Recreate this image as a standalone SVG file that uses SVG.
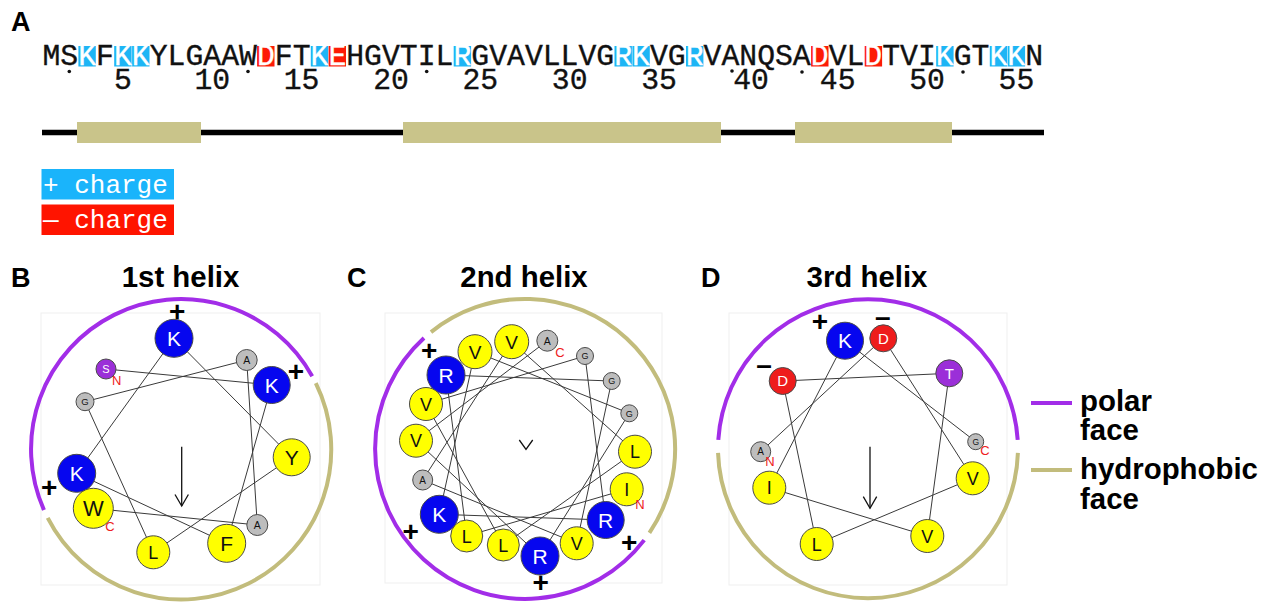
<svg xmlns="http://www.w3.org/2000/svg" width="1270" height="609" viewBox="0 0 1270 609">
<style>
.seq{font-family:"Liberation Mono","DejaVu Sans Mono",monospace;font-size:29.78px;fill:#111;stroke:#111;stroke-width:0.35}
.num{font-family:"Liberation Mono","DejaVu Sans Mono",monospace;font-size:29.78px;fill:#111;stroke:#111;stroke-width:0.35;text-anchor:middle}
.pos{fill:#1db5f5}.neg{fill:#fd1b06}
.leg{font-family:"Liberation Mono",monospace;font-size:26px;fill:#fff}
.hd{font-family:"Liberation Sans",Arial,sans-serif;font-weight:bold;fill:#000}
.ttl{font-family:"Liberation Sans",Arial,sans-serif;font-weight:bold;font-size:29.4px;text-anchor:middle;fill:#000}
.frame{fill:none;stroke:#efefef;stroke-width:1}
.pol{fill:none;stroke:#a22de8;stroke-width:4}
.hyd{fill:none;stroke:#c2bc7c;stroke-width:4}
.ln{fill:none;stroke:#3a3a3a;stroke-width:1}
.c{stroke:#4a4a4a;stroke-width:1}
.bl{fill:#0606ef}.ye{fill:#ffff00}.gr{fill:#bdbdbd}.pu{fill:#9b2fd8}.rd{fill:#ee1c1c}
.t{font-family:"Liberation Sans",Arial,sans-serif;text-anchor:middle}
.tw{fill:#fff}.tb{fill:#111}
.term{font-family:"Liberation Sans",Arial,sans-serif;font-size:13px;fill:#ee2020;text-anchor:middle}
.sym{font-family:"Liberation Sans",Arial,sans-serif;font-weight:bold;font-size:28px;text-anchor:middle;fill:#000}
.arr{fill:none;stroke:#111;stroke-width:1.3}
.lgt{font-family:"Liberation Sans",Arial,sans-serif;font-weight:bold;font-size:29.4px;fill:#000}
</style>

<g id="panelA">
<text class="hd" x="11" y="31" font-size="27">A</text>
<g id="highlights">
<rect class="pos" x="78.4" y="46" width="17.4" height="20.5"/>
<rect class="pos" x="114.2" y="46" width="17.4" height="20.5"/>
<rect class="pos" x="132.1" y="46" width="17.4" height="20.5"/>
<rect class="neg" x="257.1" y="46" width="17.4" height="20.5"/>
<rect class="pos" x="310.8" y="46" width="17.4" height="20.5"/>
<rect class="neg" x="328.6" y="46" width="17.4" height="20.5"/>
<rect class="pos" x="453.7" y="46" width="17.4" height="20.5"/>
<rect class="pos" x="614.5" y="46" width="17.4" height="20.5"/>
<rect class="pos" x="632.4" y="46" width="17.4" height="20.5"/>
<rect class="pos" x="686.0" y="46" width="17.4" height="20.5"/>
<rect class="neg" x="811.1" y="46" width="17.4" height="20.5"/>
<rect class="neg" x="864.7" y="46" width="17.4" height="20.5"/>
<rect class="pos" x="936.2" y="46" width="17.4" height="20.5"/>
<rect class="pos" x="989.8" y="46" width="17.4" height="20.5"/>
<rect class="pos" x="1007.7" y="46" width="17.4" height="20.5"/>
</g>
<text class="seq" x="42.5" y="64.5">MS<tspan fill="#fff" stroke="#fff">K</tspan>F<tspan fill="#fff" stroke="#fff">KK</tspan>YLGAAW<tspan fill="#fff" stroke="#fff">D</tspan>FT<tspan fill="#fff" stroke="#fff">KE</tspan>HGVTIL<tspan fill="#fff" stroke="#fff">R</tspan>GVAVLLVG<tspan fill="#fff" stroke="#fff">RK</tspan>VG<tspan fill="#fff" stroke="#fff">R</tspan>VANQSA<tspan fill="#fff" stroke="#fff">D</tspan>VL<tspan fill="#fff" stroke="#fff">D</tspan>TVI<tspan fill="#fff" stroke="#fff">K</tspan>GT<tspan fill="#fff" stroke="#fff">KK</tspan>N</text>
<g id="dots" fill="#111">
<circle cx="69.3" cy="71.5" r="1.8"/><circle cx="248" cy="71.5" r="1.8"/><circle cx="426.7" cy="71.5" r="1.8"/>
<circle cx="732" cy="71" r="1.8"/><circle cx="802" cy="72" r="1.8"/><circle cx="963" cy="72" r="1.8"/>
</g>
<g id="numbers">
<text class="num" x="122.9" y="88.5">5</text>
<text class="num" x="212.3" y="88.5">10</text>
<text class="num" x="301.6" y="88.5">15</text>
<text class="num" x="391" y="88.5">20</text>
<text class="num" x="480.3" y="88.5">25</text>
<text class="num" x="569.7" y="88.5">30</text>
<text class="num" x="659" y="88.5">35</text>
<text class="num" x="751" y="88.5">40</text>
<text class="num" x="837.7" y="88.5">45</text>
<text class="num" x="927.1" y="88.5">50</text>
<text class="num" x="1016.4" y="88.5">55</text>
</g>
<g id="topology">
<line x1="42" y1="132.5" x2="1044" y2="132.5" stroke="#000" stroke-width="5.5"/>
<rect x="77" y="122" width="124" height="21" fill="#c9c48a"/>
<rect x="403" y="122" width="318" height="21" fill="#c9c48a"/>
<rect x="795" y="122" width="157" height="21" fill="#c9c48a"/>
</g>
<g id="charge-legend">
<rect x="41.5" y="169" width="132.5" height="30.5" fill="#1ab4fb"/>
<text class="leg" x="43" y="193">+ charge</text>
<rect x="41.5" y="204.5" width="132.5" height="30.5" fill="#ff1400"/>
<text class="leg" x="43" y="227.5">— charge</text>
</g>
</g>

<g id="panelB">
<text class="hd" x="11" y="287" font-size="27">B</text>
<text class="ttl" x="180.5" y="287">1st helix</text>
<rect class="frame" x="41" y="313" width="279" height="272"/>
<path class="pol" d="M43.97 510 A150 150 0 0 1 312.2 376.3"/>
<path class="hyd" d="M315.8 383.2 A150 150 0 0 1 47.7 517.8"/>
<g id="h1-connectors">
<polyline class="ln" points="106,369 271.7,385 226.7,543.3 76.7,473.3 174,338.3 291.7,457.3 153.3,552.3 85,401.7 246.7,360 257.3,525 93.3,508.3"/>
</g>
<line class="arr" x1="181.7" y1="446.7" x2="181.7" y2="506"/>
<polyline class="arr" points="175,494.5 181.7,506 188.4,494.5"/>
<g id="h1-S2"><circle class="c pu" cx="106" cy="369" r="10"/><text class="t tw" x="106" y="373" font-size="11">S</text><text class="term" x="116.7" y="384.7">N</text></g>
<g id="h1-K3"><circle class="c bl" cx="271.7" cy="385" r="18.5"/><text class="t tw" x="271.7" y="392.6" font-size="21">K</text></g>
<g id="h1-F4"><circle class="c ye" cx="226.7" cy="543.3" r="19"/><text class="t tb" x="226.7" y="550.9" font-size="21">F</text></g>
<g id="h1-K5"><circle class="c bl" cx="76.7" cy="473.3" r="19"/><text class="t tw" x="76.7" y="480.9" font-size="21">K</text></g>
<g id="h1-K6"><circle class="c bl" cx="174" cy="338.3" r="19"/><text class="t tw" x="174" y="345.9" font-size="21">K</text></g>
<g id="h1-Y7"><circle class="c ye" cx="291.7" cy="457.3" r="18.5"/><text class="t tb" x="291.7" y="464.9" font-size="21">Y</text></g>
<g id="h1-L8"><circle class="c ye" cx="153.3" cy="552.3" r="16.5"/><text class="t tb" x="153.3" y="558.8" font-size="18">L</text></g>
<g id="h1-G9"><circle class="c gr" cx="85" cy="401.7" r="9"/><text class="t tb" x="85" y="405.1" font-size="9.5">G</text></g>
<g id="h1-A10"><circle class="c gr" cx="246.7" cy="360" r="10.5"/><text class="t tb" x="246.7" y="363.8" font-size="10.5">A</text></g>
<g id="h1-A11"><circle class="c gr" cx="257.3" cy="525" r="10.5"/><text class="t tb" x="257.3" y="528.8" font-size="10.5">A</text></g>
<g id="h1-W12"><circle class="c ye" cx="93.3" cy="508.3" r="20"/><text class="t tb" x="93.3" y="516.2" font-size="22">W</text><text class="term" x="110" y="530.7">C</text></g>
<text class="sym" x="177.3" y="321.3">+</text>
<text class="sym" x="296" y="381.3">+</text>
<text class="sym" x="49.3" y="496.9">+</text>
</g>

<g id="panelC">
<text class="hd" x="347" y="287" font-size="27">C</text>
<text class="ttl" x="524" y="287">2nd helix</text>
<rect class="frame" x="385" y="313" width="277" height="270"/>
<path class="pol" d="M644.2 540.1 A150 150 0 1 1 424 338.1"/>
<path class="hyd" d="M431 332.1 A150 150 0 0 1 649.4 532.9"/>
<g id="h2-connectors">
<polyline class="ln" points="626.7,489.3 466.7,536 446,375 611.7,381 576.7,543.3 422.7,480 511.7,341.7 635,451.7 503.3,545 426,404 585,356 605.7,520 439.3,514.3 475,351.7 629.3,413.3 540,556 416,440.7 547.3,340.7"/>
</g>
<polyline class="arr" points="519.3,440 526,449.3 532.7,440"/>
<g id="h2-I22"><circle class="c ye" cx="626.7" cy="489.3" r="16.5"/><text class="t tb" x="626.7" y="495.8" font-size="18">I</text><text class="term" x="640" y="508.7">N</text></g>
<g id="h2-L23"><circle class="c ye" cx="466.7" cy="536" r="16"/><text class="t tb" x="466.7" y="542.5" font-size="18">L</text></g>
<g id="h2-R24"><circle class="c bl" cx="446" cy="375" r="19"/><text class="t tw" x="446" y="382.6" font-size="21">R</text></g>
<g id="h2-G25"><circle class="c gr" cx="611.7" cy="381" r="8.5"/><text class="t tb" x="611.7" y="384.2" font-size="9">G</text></g>
<g id="h2-V26"><circle class="c ye" cx="576.7" cy="543.3" r="16.5"/><text class="t tb" x="576.7" y="549.8" font-size="18">V</text></g>
<g id="h2-A27"><circle class="c gr" cx="422.7" cy="480" r="10"/><text class="t tb" x="422.7" y="483.6" font-size="10">A</text></g>
<g id="h2-V28"><circle class="c ye" cx="511.7" cy="341.7" r="17"/><text class="t tb" x="511.7" y="348.5" font-size="19">V</text></g>
<g id="h2-L29"><circle class="c ye" cx="635" cy="451.7" r="16.5"/><text class="t tb" x="635" y="458.2" font-size="18">L</text></g>
<g id="h2-L30"><circle class="c ye" cx="503.3" cy="545" r="16"/><text class="t tb" x="503.3" y="551.5" font-size="18">L</text></g>
<g id="h2-V31"><circle class="c ye" cx="426" cy="404" r="16.5"/><text class="t tb" x="426" y="410.5" font-size="18">V</text></g>
<g id="h2-G32"><circle class="c gr" cx="585" cy="356" r="8.5"/><text class="t tb" x="585" y="359.2" font-size="9">G</text></g>
<g id="h2-R33"><circle class="c bl" cx="605.7" cy="520" r="18.5"/><text class="t tw" x="605.7" y="527.6" font-size="21">R</text></g>
<g id="h2-K34"><circle class="c bl" cx="439.3" cy="514.3" r="19"/><text class="t tw" x="439.3" y="521.9" font-size="21">K</text></g>
<g id="h2-V35"><circle class="c ye" cx="475" cy="351.7" r="17"/><text class="t tb" x="475" y="358.5" font-size="19">V</text></g>
<g id="h2-G36"><circle class="c gr" cx="629.3" cy="413.3" r="8.5"/><text class="t tb" x="629.3" y="416.5" font-size="9">G</text></g>
<g id="h2-R37"><circle class="c bl" cx="540" cy="556" r="19"/><text class="t tw" x="540" y="563.6" font-size="21">R</text></g>
<g id="h2-V38"><circle class="c ye" cx="416" cy="440.7" r="16.5"/><text class="t tb" x="416" y="447.2" font-size="18">V</text></g>
<g id="h2-A39"><circle class="c gr" cx="547.3" cy="340.7" r="10.5"/><text class="t tb" x="547.3" y="344.5" font-size="10.5">A</text><text class="term" x="560" y="357.4">C</text></g>
<text class="sym" x="429.3" y="359.6">+</text>
<text class="sym" x="410.7" y="540.6">+</text>
<text class="sym" x="629.3" y="552.3">+</text>
<text class="sym" x="540.7" y="591.9">+</text>
</g>

<g id="panelD">
<text class="hd" x="701" y="287" font-size="27">D</text>
<text class="ttl" x="867" y="287">3rd helix</text>
<rect class="frame" x="729" y="313" width="278" height="272"/>
<path class="pol" d="M718.3 439.8 A150 150 0 0 1 1017.7 439.8"/>
<path class="hyd" d="M1017.9 452.9 A150 150 0 0 1 718.05 452.9"/>
<g id="h3-connectors">
<polyline class="ln" points="760.7,451.7 883.3,338.3 972.7,478.3 816.7,544 782.7,381 949.3,373.3 927.3,536 769.3,487.7 845,340.7 975.7,441.7"/>
</g>
<line class="arr" x1="870" y1="446.7" x2="870" y2="508.3"/>
<polyline class="arr" points="863.3,496.7 870,508.3 876.7,496.7"/>
<g id="h3-A43"><circle class="c gr" cx="760.7" cy="451.7" r="10"/><text class="t tb" x="760.7" y="455.3" font-size="10">A</text><text class="term" x="770" y="466.4">N</text></g>
<g id="h3-D44"><circle class="c rd" cx="883.3" cy="338.3" r="13.5"/><text class="t tw" x="883.3" y="343.7" font-size="15">D</text></g>
<g id="h3-V45"><circle class="c ye" cx="972.7" cy="478.3" r="16.5"/><text class="t tb" x="972.7" y="484.8" font-size="18">V</text></g>
<g id="h3-L46"><circle class="c ye" cx="816.7" cy="544" r="16.5"/><text class="t tb" x="816.7" y="550.5" font-size="18">L</text></g>
<g id="h3-D47"><circle class="c rd" cx="782.7" cy="381" r="13.5"/><text class="t tw" x="782.7" y="386.4" font-size="15">D</text></g>
<g id="h3-T48"><circle class="c pu" cx="949.3" cy="373.3" r="13.5"/><text class="t tw" x="949.3" y="378.7" font-size="15">T</text></g>
<g id="h3-V49"><circle class="c ye" cx="927.3" cy="536" r="16.5"/><text class="t tb" x="927.3" y="542.5" font-size="18">V</text></g>
<g id="h3-I50"><circle class="c ye" cx="769.3" cy="487.7" r="16.5"/><text class="t tb" x="769.3" y="494.2" font-size="18">I</text></g>
<g id="h3-K51"><circle class="c bl" cx="845" cy="340.7" r="18.5"/><text class="t tw" x="845" y="348.3" font-size="21">K</text></g>
<g id="h3-G52"><circle class="c gr" cx="975.7" cy="441.7" r="8"/><text class="t tb" x="975.7" y="444.8" font-size="8.5">G</text><text class="term" x="985" y="454.7">C</text></g>
<text class="sym" x="820" y="331.3">+</text>
<text class="sym" x="882.7" y="326.4" font-size="30">–</text>
<text class="sym" x="764" y="373.7" font-size="30">–</text>
</g>

<g id="face-legend">
<line x1="1031" y1="403" x2="1072" y2="403" stroke="#a22de8" stroke-width="4"/>
<text class="lgt" x="1080" y="411">polar</text>
<text class="lgt" x="1080" y="440">face</text>
<line x1="1031" y1="470" x2="1072" y2="470" stroke="#c2bc7c" stroke-width="4"/>
<text class="lgt" x="1080" y="479">hydrophobic</text>
<text class="lgt" x="1080" y="509">face</text>
</g>
</svg>
